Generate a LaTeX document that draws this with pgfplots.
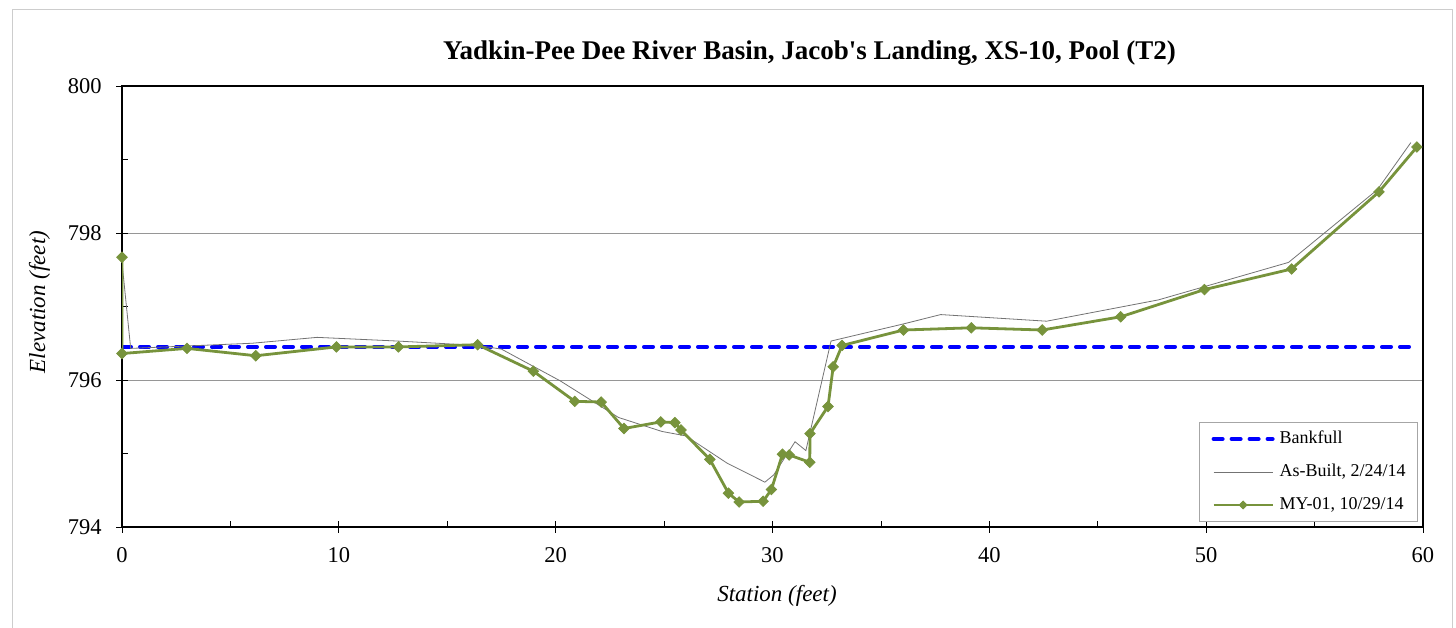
\documentclass[border=0pt]{standalone}
\usepackage{pgfplots}
\pgfplotsset{compat=1.18}
\usepackage{fontspec}
\setmainfont{Liberation Serif}[Ligatures=TeXOff]
\definecolor{olivegreen}{RGB}{119,147,60}
\definecolor{gridgray}{RGB}{150,150,150}
\definecolor{framegray}{RGB}{205,205,205}
\pgfplotsset{
  lineleg/.style={legend image code/.code={\draw[##1] (0pt,0pt) -- (59pt,0pt);}},
  markleg/.style={legend image code/.code={\draw[##1, mark size=2.8pt, mark repeat=2, mark phase=2]
    plot coordinates {(0pt,0pt) (29.5pt,0pt) (59pt,0pt)};}},
}
\begin{document}
\begin{tikzpicture}[x=1pt,y=1pt]
\useasboundingbox (0,0) rectangle (1456,628);
% outer chart frame
\draw[framegray, line width=1pt] (12,-10) -- (12,618) -- (1452,618) -- (1452,-10);
\begin{axis}[
  at={(122pt,101pt)}, anchor=south west,
  scale only axis, width=1301pt, height=441pt,
  xmin=0, xmax=60, ymin=794, ymax=800,
  xtick={0,10,...,60}, ytick={794,796,798,800},
  minor x tick num=1, minor y tick num=1,
  tick pos=left, tick align=inside,
  major tick length=6pt, minor tick length=6pt,
  tick style={black, line width=0.8pt},
  extra x ticks={0,10,20,30,40,50,60}, extra x tick labels={},
  extra y ticks={794,796,798,800}, extra y tick labels={},
  extra tick style={tick align=outside, grid=none},
  ymajorgrids, major grid style={gridgray, line width=0.8pt},
  axis line style={black, line width=2pt},
  /pgf/number format/assume math mode=true,
  /pgf/number format/set thousands separator={},
  xticklabel style={font=\fontsize{22.5}{24}\selectfont, anchor=north, inner sep=0pt, yshift=-20pt},
  yticklabel style={font=\fontsize{22.5}{24}\selectfont, anchor=east, inner sep=0pt, xshift=-20.3pt},
  legend cell align=left,
  legend style={at={(0.828,0.238)}, anchor=north west, draw=black!35, line width=0.8pt, fill=white,
    font=\fontsize{18}{20}\selectfont, inner xsep=12pt, inner ysep=8pt, row sep=16pt,
    nodes={inner sep=0pt, text height=13pt, text depth=4pt},
    /tikz/every odd column/.append style={column sep=5pt}},
]
% bankfull elevation
\addplot[blue, line width=4pt, dash pattern=on 9pt off 9pt, line cap=round, lineleg]
  coordinates {(0,796.45) (59.7,796.45)};
\addlegendentry{Bankfull}
% as-built survey
\addplot[black!55, line width=0.8pt, lineleg]
  table {
x y
0 797.6
0.4 796.43
6.0 796.5
9.0 796.58
12.7 796.53
16.4 796.47
17.5 796.42
20.2 795.99
22.9 795.49
24.9 795.30
26.0 795.24
27.9 794.87
29.65 794.61
30.06 794.71
31.04 795.16
31.54 795.04
32.7 796.53
36.0 796.76
37.76 796.89
42.64 796.80
47.8 797.09
49.92 797.27
53.8 797.60
57.9 798.59
59.44 799.23
};
\addlegendentry{As-Built, 2/24/14}
% monitoring year 1 survey (diamonds = squares turned 45 degrees)
\addplot[olivegreen, line width=2.8pt, mark=square*, mark size=3.7pt,
  mark options={solid, rotate=45, line width=0.8pt, fill=olivegreen}, markleg]
  table {
x y
0 797.67
0 796.36
3.0 796.43
6.17 796.33
9.89 796.45
12.75 796.45
16.4 796.48
18.97 796.12
20.88 795.71
22.1 795.70
23.15 795.34
24.85 795.43
25.5 795.42
25.78 795.32
27.11 794.92
27.97 794.46
28.46 794.34
29.57 794.35
29.95 794.51
30.46 794.99
30.77 794.98
31.72 794.88
31.73 795.27
32.56 795.64
32.8 796.18
33.21 796.47
36.04 796.68
39.17 796.71
42.44 796.68
46.06 796.86
49.92 797.23
53.94 797.51
57.97 798.56
59.72 799.17
};
\addlegendentry{MY-01, 10/29/14}
\end{axis}
\node[anchor=base, font=\bfseries\fontsize{27}{30}\selectfont] at (809.5,568)
  {Yadkin-Pee Dee River Basin, Jacob's Landing, XS-10, Pool (T2)};
\node[anchor=base, font=\itshape\fontsize{23}{26}\selectfont] at (777,26.5) {Station (feet)};
\node[anchor=base, rotate=90, font=\itshape\fontsize{23}{26}\selectfont] at (45,326) {Elevation (feet)};
\end{tikzpicture}
\end{document}
